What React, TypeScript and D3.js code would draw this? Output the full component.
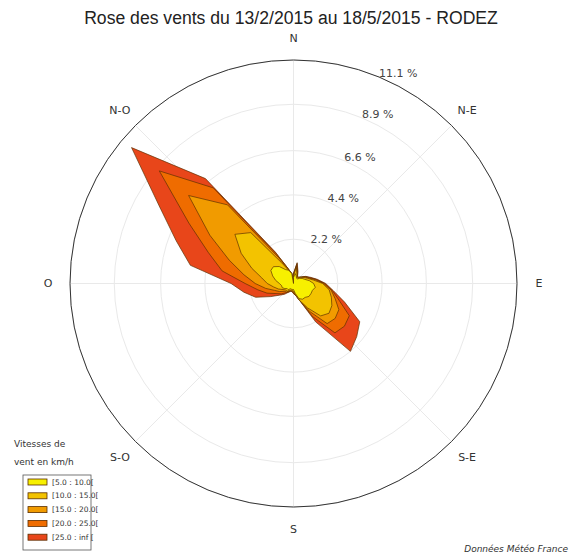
import React from 'react';
import * as d3 from 'd3';

// directions in degrees (0 = N, clockwise), 10° steps
const directions = d3.range(0, 360, 10);

// frequencies (%) per speed class, one value per direction
const class5to10 = [0.3, 0.5, 0.4, 0.3, 0.3, 0.4, 0.5, 0.6, 0.8, 1.0, 1.1, 1.0, 1.0, 1.0, 0.9, 0.9, 0.8, 0.5,
  0.3, 0.3, 0.3, 0.3, 0.4, 0.4, 0.5, 0.6, 0.6, 0.7, 0.9, 1.1, 1.3, 1.3, 1.1, 0.8, 0.7, 0.5];
const class10to15 = [0.1, 0.3, 0.1, 0.05, 0.05, 0.05, 0.1, 0.15, 0.2, 0.45, 0.7, 1.0, 1.2, 1.3, 1.2, 0.5, 0.1, 0.05,
  0.1, 0.05, 0.05, 0.1, 0.1, 0.1, 0.1, 0.2, 0.4, 0.6, 0.7, 1.1, 1.7, 2.5, 2.2, 0.4, 0, 0];
const class15to20 = [0.05, 0.1, 0.05, 0.05, 0.05, 0.05, 0.05, 0.05, 0.1, 0.05, 0.1, 0.2, 0.4, 0.4, 0.5, 0.2, 0, 0.05,
  0.05, 0.05, 0.05, 0.05, 0.05, 0.1, 0.2, 0.2, 0.4, 0.6, 0.9, 1.2, 1.8, 3.0, 1.8, 0.3, 0.05, 0];
const class20to25 = [0.05, 0.1, 0.05, 0, 0, 0, 0.05, 0.05, 0.05, 0.05, 0.05, 0.2, 0.6, 0.6, 0.6, 0.3, 0, 0,
  0.05, 0, 0, 0.05, 0.05, 0.2, 0.2, 0.4, 0.4, 0.5, 1.1, 1.1, 1.2, 1.9, 1.1, 0.2, 0.05, 0];
const class25plus = [0, 0.05, 0.05, 0, 0, 0, 0, 0.05, 0.05, 0.05, 0.05, 0.3, 0.6, 0.8, 1.2, 0.3, 0, 0,
  0, 0, 0, 0, 0.1, 0.1, 0.3, 0.6, 0.7, 0.7, 1.6, 1.7, 1.7, 1.8, 0.6, 0.1, 0, 0];

const classes = [class5to10, class10to15, class15to20, class20to25, class25plus];
const classLabels = ['[5.0 : 10.0[', '[10.0 : 15.0[', '[15.0 : 20.0[', '[20.0 : 25.0[', '[25.0 : inf ['];
const classColors = ['#f7f000', '#f3c300', '#f19b00', '#ef6c00', '#e8461a'];

const ringTicks = [2.2, 4.4, 6.6, 8.9, 11.1];
const compassLabels = ['N', 'N-E', 'E', 'S-E', 'S', 'S-O', 'O', 'N-O'];

const width = 582;
const height = 560;
const cx = 293.5;
const cy = 283.5;
const R = 223.5;

export default function App() {
  const r = d3.scaleLinear().domain([0, 11.1]).range([0, R]);
  const toRad = (deg: number) => (deg * Math.PI) / 180;

  // cumulative sums, like a stacked wind rose
  const cumulative: number[][] = [];
  let running = directions.map(() => 0);
  classes.forEach((vals) => {
    running = running.map((v, i) => v + vals[i]);
    cumulative.push(running);
  });

  const line = d3.lineRadial<[number, number]>()
    .angle((d) => d[0])
    .radius((d) => d[1])
    .curve(d3.curveLinearClosed);

  const polys = cumulative.map((cum) => {
    const pts: [number, number][] = directions.map((dir, i) => [toRad(dir), r(cum[i])]);
    pts.push([0, 0]);
    return line(pts) as string;
  });

  const compassAngles = compassLabels.map((_, i) => i * 45);

  return (
    <svg width={width} height={height} style={{ position: 'absolute', left: 0, top: 0, background: '#fff' }}
      fontFamily="DejaVu Sans">
      <text x={291} y={24} textAnchor="middle" fontFamily="Liberation Sans" fontSize={17.6} fill="#222">
        Rose des vents du 13/2/2015 au 18/5/2015 - RODEZ
      </text>

      <g transform={`translate(${cx},${cy})`}>
        {/* grid */}
        {ringTicks.map((t) => (
          <circle key={t} r={r(t)} fill="none" stroke="#e9e9e9" strokeWidth={1} />
        ))}
        {compassAngles.map((a) => (
          <line key={a} x1={0} y1={0} x2={R * Math.sin(toRad(a))} y2={-R * Math.cos(toRad(a))}
            stroke="#e9e9e9" strokeWidth={1} />
        ))}

        {/* stacked polygons, outermost first */}
        {polys.slice().reverse().map((p, k) => {
          const i = polys.length - 1 - k;
          return <path key={i} d={p} fill={classColors[i]} stroke="#5a2e00" strokeWidth={0.8}
            strokeOpacity={0.85} strokeLinejoin="round" />;
        })}

        <circle r={R} fill="none" stroke="#333" strokeWidth={1} />

        {ringTicks.map((t) => (
          <text key={t} x={r(t) * Math.sin(toRad(22.5))} y={-r(t) * Math.cos(toRad(22.5))}
            fontSize={11} fill="#444">{`${t.toFixed(1)} %`}</text>
        ))}

        {compassLabels.map((lab, i) => (
          <text key={lab} x={(R + 22) * Math.sin(toRad(compassAngles[i]))}
            y={-(R + 22) * Math.cos(toRad(compassAngles[i]))} dy="0.35em"
            textAnchor="middle" fontSize={11} fill="#333">{lab}</text>
        ))}
      </g>

      {/* legend */}
      <text x={14} y={447} fontSize={9} fill="#333">Vitesses de</text>
      <text x={14} y={465} fontSize={9} fill="#333">vent en km/h</text>
      <rect x={23} y={475} width={68} height={75} fill="#fff" stroke="#555" strokeWidth={0.8} />
      {classLabels.map((lab, i) => (
        <g key={lab} transform={`translate(0,${482 + i * 13.8})`}>
          <rect x={28} y={-3} width={19} height={6} fill={classColors[i]} stroke="#5a2e00" strokeWidth={0.8} />
          <text x={52} y={0} dy="0.35em" fontSize={7.5} fill="#333">{lab}</text>
        </g>
      ))}

      <text x={568} y={552} textAnchor="end" fontSize={9} fontStyle="italic" fill="#333">
        Données Météo France
      </text>
    </svg>
  );
}
